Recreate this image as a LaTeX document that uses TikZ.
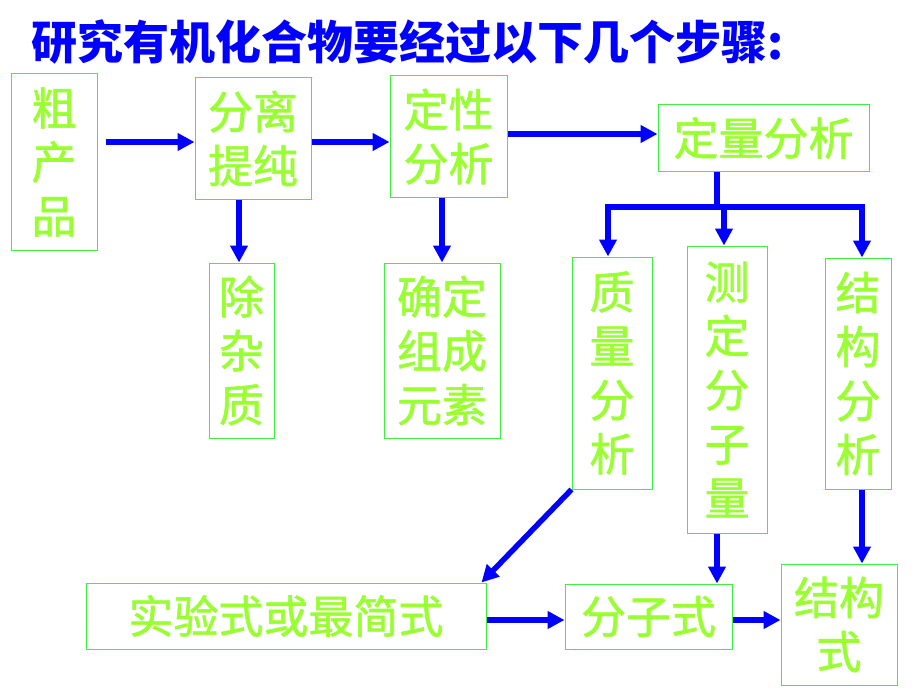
\documentclass[tikz,border=0pt]{standalone}
\usepackage{fontspec}
\newfontfamily\cjk{Noto Sans CJK SC}
\newfontfamily\cjkg{Noto Sans CJK SC}[FakeBold=1.2]
\usetikzlibrary{arrows.meta,calc}
\definecolor{arrblue}{RGB}{0,0,255}
\definecolor{boxgreen}{RGB}{60,240,60}
\definecolor{txtgreen}{RGB}{153,255,51}
\begin{document}
\begin{tikzpicture}[x=1pt,y=-1pt,
  box/.style={draw=boxgreen,line width=1pt,inner sep=0pt,align=center,
    text=txtgreen,font=\cjkg\fontsize{45}{54}\selectfont},
  arr/.style={draw=arrblue,line width=5.5pt,-{Triangle[length=17pt,width=17pt]}},
  bar/.style={draw=arrblue,line width=5.5pt}]
\useasboundingbox[fill=white] (0,0) rectangle (920,690);
\node[anchor=west,text=arrblue,font=\cjk\bfseries\fontsize{46}{54}\selectfont] (title) at (28,42) {研究有机化合物要经过以下几个步骤:};
\node[box,minimum width=86pt,minimum height=176pt] (cu) at (54,162) {粗\\产\\品};
\node[box,minimum width=116pt,minimum height=121pt] (fl) at (253,138.5) {分离\\提纯};
\node[box,minimum width=117pt,minimum height=121pt] (dx) at (448.5,136.5) {定性\\分析};
\node[box,minimum width=211pt,minimum height=66pt] (dl) at (763.5,138) {定量分析};
\node[box,minimum width=65pt,minimum height=175pt] (cz) at (241.5,350.5) {除\\杂\\质};
\node[box,minimum width=116pt,minimum height=175pt] (qd) at (442,350.5) {确定\\组成\\元素};
\node[box,minimum width=80pt,minimum height=232pt] (zl) at (612,373) {质\\量\\分\\析};
\node[box,minimum width=80pt,minimum height=287pt] (cd) at (727,389.5) {测\\定\\分\\子\\量};
\node[box,minimum width=66pt,minimum height=231pt] (jg) at (858,373.5) {结\\构\\分\\析};
\node[box,minimum width=400pt,minimum height=66pt] (syd) at (286,616) {实验式或最简式};
\node[box,minimum width=167pt,minimum height=65pt] (fzs) at (648.5,616.5) {分子式};
\node[box,minimum width=116pt,minimum height=121pt] (jgs) at (839,624.5) {结构\\式};
% top row
\draw[arr] ([xshift=8pt]cu.east |- 0,142) -- (fl.west |- 0,142);
\draw[arr] (fl.east |- 0,142) -- (dx.west |- 0,142);
\draw[arr] (dx.east |- 0,134) -- (dl.west |- 0,134);
\draw[arr] (fl.south -| 239,0) -- (cz.north -| 239,0);
\draw[arr] (dx.south -| 442,0) -- (qd.north -| 442,0);
% branching
\coordinate (b0) at (717,207);
\draw[bar] (dl.south -| b0) -- (b0);
\draw[bar] (608,207) -- (862,207);
\draw[arr] (608,204.25) -- (zl.north -| 608,0);
\draw[arr] (724,207) -- (cd.north -| 724,0);
\draw[arr] (862,204.25) -- (jg.north -| 862,0);
% lower
\draw[arr] (zl.south west) -- ([xshift=-5pt]syd.north east);
\draw[arr] (cd.south -| 717,0) -- (fzs.north -| 717,0);
\draw[arr] (jg.south -| 862,0) -- (jgs.north -| 862,0);
\draw[arr] (syd.east |- 0,620) -- (fzs.west |- 0,620);
\draw[arr] (fzs.east |- 0,620) -- (jgs.west |- 0,620);
\end{tikzpicture}
\end{document}
